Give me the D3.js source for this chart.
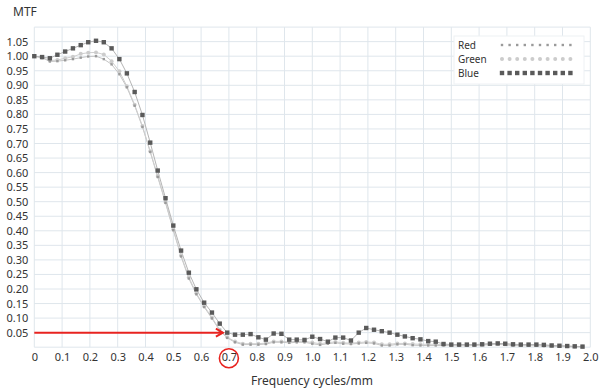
<!DOCTYPE html>
<html>
<head>
<meta charset="utf-8">
<script src="https://cdn.jsdelivr.net/npm/d3@7"></script>
<style>
  html, body { margin: 0; padding: 0; background: #fff; }
  svg { display: block; font-family: "Noto Sans", "Open Sans", sans-serif; }
</style>
</head>
<body>
<svg id="chart" width="600" height="392"></svg>
<script>
// Spatial frequency samples (cycles/mm)
const frequency = [
  0, 0.028, 0.056, 0.083, 0.111, 0.139, 0.167, 0.194, 0.222, 0.25, 0.278, 0.306,
  0.333, 0.361, 0.389, 0.417, 0.444, 0.472, 0.5, 0.528, 0.556, 0.583, 0.611, 0.639,
  0.667, 0.694, 0.722, 0.75, 0.778, 0.806, 0.833, 0.861, 0.889, 0.917, 0.944, 0.972,
  1.0, 1.028, 1.056, 1.083, 1.111, 1.139, 1.167, 1.194, 1.222, 1.25, 1.278, 1.306,
  1.333, 1.361, 1.389, 1.417, 1.444, 1.472, 1.5, 1.528, 1.556, 1.583, 1.611, 1.639,
  1.667, 1.694, 1.722, 1.75, 1.778, 1.806, 1.833, 1.861, 1.889, 1.917, 1.944, 1.972
];

// MTF per colour channel
const mtfRed = [
  1.000, 0.995, 0.982, 0.983, 0.986, 0.990, 0.995, 0.999, 1.000, 0.990, 0.972, 0.938,
  0.893, 0.830, 0.757, 0.671, 0.585, 0.496, 0.402, 0.312, 0.236, 0.182, 0.138, 0.099,
  0.057, 0.032, 0.017, 0.009, 0.009, 0.009, 0.011, 0.017, 0.017, 0.015, 0.017, 0.017,
  0.012, 0.008, 0.012, 0.015, 0.012, 0.011, 0.013, 0.015, 0.013, 0.006, 0.006, 0.010,
  0.010, 0.007, 0.006, 0.006, 0.006, 0.006, 0.005, 0.005, 0.005, 0.006, 0.007, 0.009,
  0.010, 0.008, 0.006, 0.005, 0.005, 0.005, 0.004, 0.003, 0.002, 0.002, 0.001, 0.001
];
const mtfGreen = [
  1.000, 0.995, 0.985, 0.987, 0.993, 0.998, 1.008, 1.012, 1.013, 1.006, 0.983, 0.948,
  0.897, 0.833, 0.760, 0.673, 0.588, 0.499, 0.405, 0.315, 0.240, 0.185, 0.141, 0.102,
  0.060, 0.034, 0.020, 0.012, 0.012, 0.012, 0.014, 0.020, 0.020, 0.018, 0.020, 0.020,
  0.016, 0.012, 0.016, 0.018, 0.015, 0.014, 0.016, 0.018, 0.016, 0.010, 0.010, 0.013,
  0.013, 0.011, 0.010, 0.010, 0.010, 0.009, 0.008, 0.008, 0.008, 0.009, 0.010, 0.012,
  0.013, 0.011, 0.009, 0.008, 0.008, 0.008, 0.007, 0.005, 0.004, 0.003, 0.002, 0.002
];
const mtfBlue = [
  1.000, 0.997, 0.993, 1.005, 1.016, 1.027, 1.038, 1.048, 1.053, 1.048, 1.027, 0.990,
  0.941, 0.877, 0.798, 0.703, 0.607, 0.512, 0.418, 0.332, 0.256, 0.199, 0.153, 0.119,
  0.081, 0.050, 0.043, 0.043, 0.045, 0.034, 0.026, 0.047, 0.046, 0.026, 0.026, 0.025,
  0.036, 0.028, 0.019, 0.033, 0.033, 0.023, 0.050, 0.066, 0.060, 0.055, 0.050, 0.043,
  0.037, 0.031, 0.027, 0.021, 0.019, 0.011, 0.009, 0.009, 0.009, 0.009, 0.010, 0.012,
  0.013, 0.012, 0.010, 0.009, 0.009, 0.009, 0.008, 0.006, 0.005, 0.004, 0.003, 0.002
];

const xTickValues = [0, 0.1, 0.2, 0.3, 0.4, 0.5, 0.6, 0.7, 0.8, 0.9, 1.0,
                     1.1, 1.2, 1.3, 1.4, 1.5, 1.6, 1.7, 1.8, 1.9, 2.0];
const xTickLabels = ["0", "0.1", "0.2", "0.3", "0.4", "0.5", "0.6", "0.7", "0.8", "0.9", "1.0",
                     "1.1", "1.2", "1.3", "1.4", "1.5", "1.6", "1.7", "1.8", "1.9", "2.0"];
const yTickValues = [0.05, 0.10, 0.15, 0.20, 0.25, 0.30, 0.35, 0.40, 0.45, 0.50, 0.55,
                     0.60, 0.65, 0.70, 0.75, 0.80, 0.85, 0.90, 0.95, 1.00, 1.05];
const yGridValues = [0, 0.05, 0.10, 0.15, 0.20, 0.25, 0.30, 0.35, 0.40, 0.45, 0.50, 0.55,
                     0.60, 0.65, 0.70, 0.75, 0.80, 0.85, 0.90, 0.95, 1.00, 1.05, 1.10];

// Highlighted reading: MTF 0.05 reached at 0.7 cycles/mm
const markLevel = 0.05;
const markFrequency = 0.7;

const svg = d3.select("#chart");
const x = d3.scaleLinear().domain([0, 2.0]).range([34.3, 590.3]);
const y = d3.scaleLinear().domain([0, 1.1]).range([347.2, 27.1]);

const gridColor = "#dfe6ec";
const textColor = "#333";

// Grid
const grid = svg.append("g");
grid.selectAll("line.h").data(yGridValues).join("line")
  .attr("x1", x(0)).attr("x2", x(2.0))
  .attr("y1", d => y(d)).attr("y2", d => y(d))
  .attr("stroke", gridColor).attr("stroke-width", 1);
grid.selectAll("line.v").data(xTickValues).join("line")
  .attr("x1", d => x(d)).attr("x2", d => x(d))
  .attr("y1", y(0)).attr("y2", y(1.1))
  .attr("stroke", gridColor).attr("stroke-width", 1);

// Axes (labels only)
const yAxis = d3.axisLeft(y).tickValues(yTickValues).tickSize(0).tickPadding(6)
  .tickFormat(d3.format(".2f"));
const yg = svg.append("g").attr("transform", `translate(${x(0)},0)`).call(yAxis);
yg.select(".domain").remove();
yg.selectAll("text").attr("font-size", 11).attr("fill", textColor)
  .attr("font-family", "Noto Sans, sans-serif");

const xAxis = d3.axisBottom(x).tickValues(xTickValues).tickSize(0).tickPadding(6)
  .tickFormat((d, i) => xTickLabels[i]);
const xg = svg.append("g").attr("transform", `translate(0,${y(0)})`).call(xAxis);
xg.select(".domain").remove();
xg.selectAll("text").attr("font-size", 11).attr("fill", textColor)
  .attr("font-family", "Noto Sans, sans-serif");

// Titles
svg.append("text").attr("x", 13).attr("y", 16).text("MTF")
  .attr("font-size", 12).attr("fill", textColor);
svg.append("text").attr("x", 312).attr("y", 385).attr("text-anchor", "middle")
  .text("Frequency cycles/mm").attr("font-size", 12).attr("fill", textColor);

// Series
const series = [
  { name: "Red", values: mtfRed, line: "#c4c4c4" },
  { name: "Green", values: mtfGreen, line: "#cfcfcf" },
  { name: "Blue", values: mtfBlue, line: "#b5b5b5" }
];

const lineGen = d3.line().x(d => x(d[0])).y(d => y(d[1]));
series.forEach(s => {
  const pts = frequency.map((f, i) => [f, s.values[i]]);
  svg.append("path").datum(pts)
    .attr("d", lineGen).attr("fill", "none")
    .attr("stroke", s.line).attr("stroke-width", 1);
});

function drawMarkers(g, name, pts) {
  if (name === "Blue") {
    g.selectAll("rect").data(pts).join("rect")
      .attr("x", d => d[0] - 2.2).attr("y", d => d[1] - 2.2)
      .attr("width", 4.4).attr("height", 4.4).attr("fill", "#5a5a5a");
  } else if (name === "Green") {
    g.selectAll("circle").data(pts).join("circle")
      .attr("cx", d => d[0]).attr("cy", d => d[1]).attr("r", 2)
      .attr("fill", "#cccccc");
  } else {
    g.selectAll("rect").data(pts).join("rect")
      .attr("x", d => d[0] - 1.2).attr("y", d => d[1] - 1.2)
      .attr("width", 2.4).attr("height", 2.4).attr("fill", "#9a9a9a");
  }
}

["Green", "Red", "Blue"].forEach(name => {
  const s = series.find(v => v.name === name);
  const pts = frequency.map((f, i) => [x(f), y(s.values[i])]);
  drawMarkers(svg.append("g"), name, pts);
});

// Legend
const legend = svg.append("g");
legend.append("rect").attr("x", 454).attr("y", 36).attr("width", 130).attr("height", 48)
  .attr("fill", "#fff").attr("stroke", "#eef1f4");
series.forEach((s, i) => {
  const ly = 45 + i * 14;
  legend.append("text").attr("x", 458).attr("y", ly + 3.5).text(s.name)
    .attr("font-size", 10).attr("fill", textColor);
  const pts = d3.range(10).map(k => [502 + k * 7.6, ly]);
  drawMarkers(legend.append("g"), s.name, pts);
});

// Annotation: arrow at MTF 0.05 and circle around 0.7
const ay = y(markLevel);
const ax = x(markFrequency) - 6;
svg.append("line").attr("x1", x(0)).attr("x2", ax).attr("y1", ay).attr("y2", ay)
  .attr("stroke", "#e8231f").attr("stroke-width", 2);
svg.append("path")
  .attr("d", `M${ax - 7},${ay - 4} L${ax},${ay} L${ax - 7},${ay + 4}`)
  .attr("fill", "none").attr("stroke", "#e8231f").attr("stroke-width", 2);
svg.append("circle").attr("cx", x(markFrequency)).attr("cy", y(0) + 11).attr("r", 9.5)
  .attr("fill", "none").attr("stroke", "#e8231f").attr("stroke-width", 1.6);
</script>
</body>
</html>
